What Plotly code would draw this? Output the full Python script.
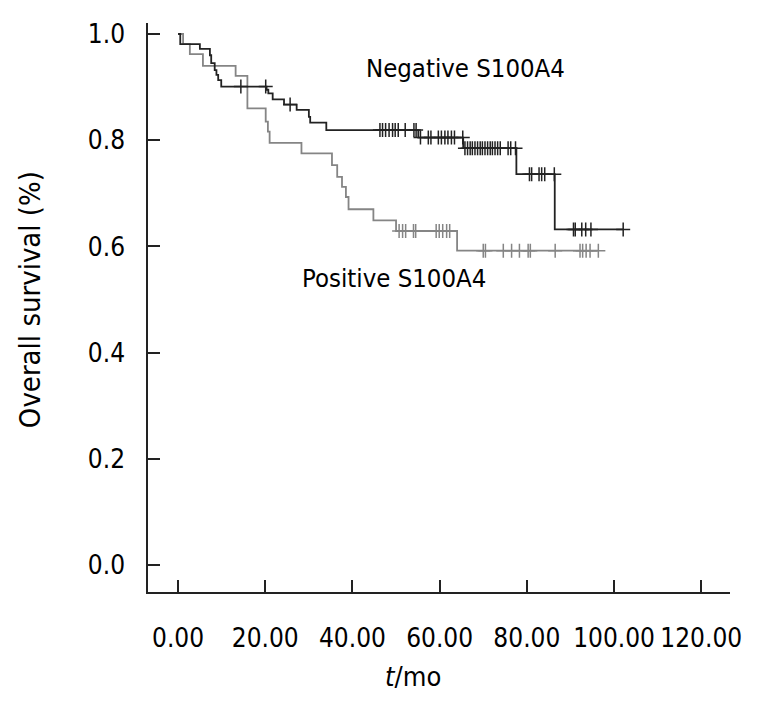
import plotly.graph_objects as go

# ---- data ----
neg_times = [0, 0.5, 5.0, 7.3, 7.6, 8.4, 8.8, 9.2, 9.9, 20.3, 20.7, 21.7, 24.3, 27.2,
             30.0, 30.3, 34.0, 55.1, 65.4, 77.6, 86.4, 102.1]
neg_surv = [1.0, 0.981, 0.972, 0.960, 0.945, 0.932, 0.923, 0.913, 0.901, 0.895, 0.888,
            0.877, 0.867, 0.857, 0.844, 0.833, 0.819, 0.805, 0.785, 0.736, 0.632, 0.632]
neg_censor = [14.4, 20.1, 25.7,
              46.3, 46.9, 47.6, 48.4, 49.2, 49.8, 50.5, 52.1, 54.1, 54.6,
              55.6, 57.4, 58.0, 59.7, 60.4, 61.2, 61.9, 62.7, 63.4, 65.3,
              65.8, 66.4, 67.0, 67.5, 68.1, 68.7, 69.3, 69.8, 70.4, 71.0, 71.6, 72.1,
              72.7, 73.3, 73.9, 75.7, 76.3, 77.4,
              80.6, 81.1, 82.8, 83.4, 84.1, 86.3,
              90.7, 91.1, 92.6, 93.5, 94.7, 102.1]

pos_times = [0, 1.15, 2.7, 5.7, 13.2, 15.9, 20.1, 20.6, 21.0, 28.3, 35.3, 36.5, 37.6,
             38.5, 39.1, 44.8, 50.0, 64.0, 96.4]
pos_surv = [1.0, 0.981, 0.962, 0.940, 0.921, 0.860, 0.835, 0.816, 0.795, 0.775, 0.753,
            0.731, 0.712, 0.693, 0.670, 0.649, 0.629, 0.592, 0.592]
pos_censor = [50.7, 51.5, 52.2, 54.0, 54.5, 59.2, 59.9, 60.7, 61.6, 62.3,
              70.0, 70.5, 74.6, 76.5, 78.3, 80.3, 80.8, 86.5, 92.2, 92.8, 93.6, 94.5, 96.4]

x_ticks = [0, 20, 40, 60, 80, 100, 120]
x_tick_labels = ["0.00", "20.00", "40.00", "60.00", "80.00", "100.00", "120.00"]
y_ticks = [0.0, 0.2, 0.4, 0.6, 0.8, 1.0]
y_tick_labels = ["0.0", "0.2", "0.4", "0.6", "0.8", "1.0"]

NEG_COLOR = "#222222"
POS_COLOR = "#858585"
FONT = "DejaVu Sans Condensed, DejaVu Sans"


def level_at(times, surv, t):
    s = surv[0]
    for ti, si in zip(times, surv):
        if ti <= t:
            s = si
    return s


fig = go.Figure()
for times, surv, cens, col in [(pos_times, pos_surv, pos_censor, POS_COLOR),
                               (neg_times, neg_surv, neg_censor, NEG_COLOR)]:
    fig.add_trace(go.Scatter(x=times, y=surv, mode="lines", line=dict(color=col, width=1.8, shape="hv"),
                             showlegend=False, hoverinfo="skip"))
    fig.add_trace(go.Scatter(x=cens, y=[level_at(times, surv, c) for c in cens], mode="markers",
                             marker=dict(symbol="cross-thin", size=10, line=dict(color=col, width=1.5)),
                             showlegend=False, hoverinfo="skip"))

fig.add_annotation(x=66.0, y=0.936, text="Negative S100A4", showarrow=False,
                   font=dict(family=FONT, size=25.5, color="black"))
fig.add_annotation(x=49.5, y=0.540, text="Positive S100A4", showarrow=False,
                   font=dict(family=FONT, size=25.5, color="black"))
fig.add_annotation(x=0.455, y=-0.149, xref="paper", yref="paper", text="<i>t</i>/mo",
                   showarrow=False, xanchor="center", yanchor="middle",
                   font=dict(family=FONT, size=27, color="black"))
fig.add_annotation(x=-0.2027, y=0.513, xref="paper", yref="paper", text="Overall survival (%)",
                   showarrow=False, textangle=-90, xanchor="center", yanchor="middle",
                   font=dict(family=FONT, size=29, color="black"))

fig.update_layout(
    width=759, height=687,
    margin=dict(l=140, r=37, t=15, b=103),
    paper_bgcolor="white", plot_bgcolor="white",
    font=dict(family=FONT, size=26, color="black"),
    xaxis=dict(range=[-6.9, 126.6], tickvals=x_ticks, ticktext=x_tick_labels, tickangle=0,
               automargin=False, tickfont=dict(family=FONT, size=26),
               showline=True, linecolor="#222", linewidth=1.5, ticks="inside", ticklen=12,
               tickcolor="#222", tickwidth=1.5, showgrid=False, zeroline=False,
               ticklabelstandoff=22),
    yaxis=dict(range=[-0.0508, 1.0207], tickvals=y_ticks, ticktext=y_tick_labels,
               automargin=False, tickfont=dict(family=FONT, size=26),
               showline=True, linecolor="#222", linewidth=1.5, ticks="inside", ticklen=12,
               tickcolor="#222", tickwidth=1.5, showgrid=False, zeroline=False,
               ticklabelstandoff=16),
)

fig.write_html("out.html")
